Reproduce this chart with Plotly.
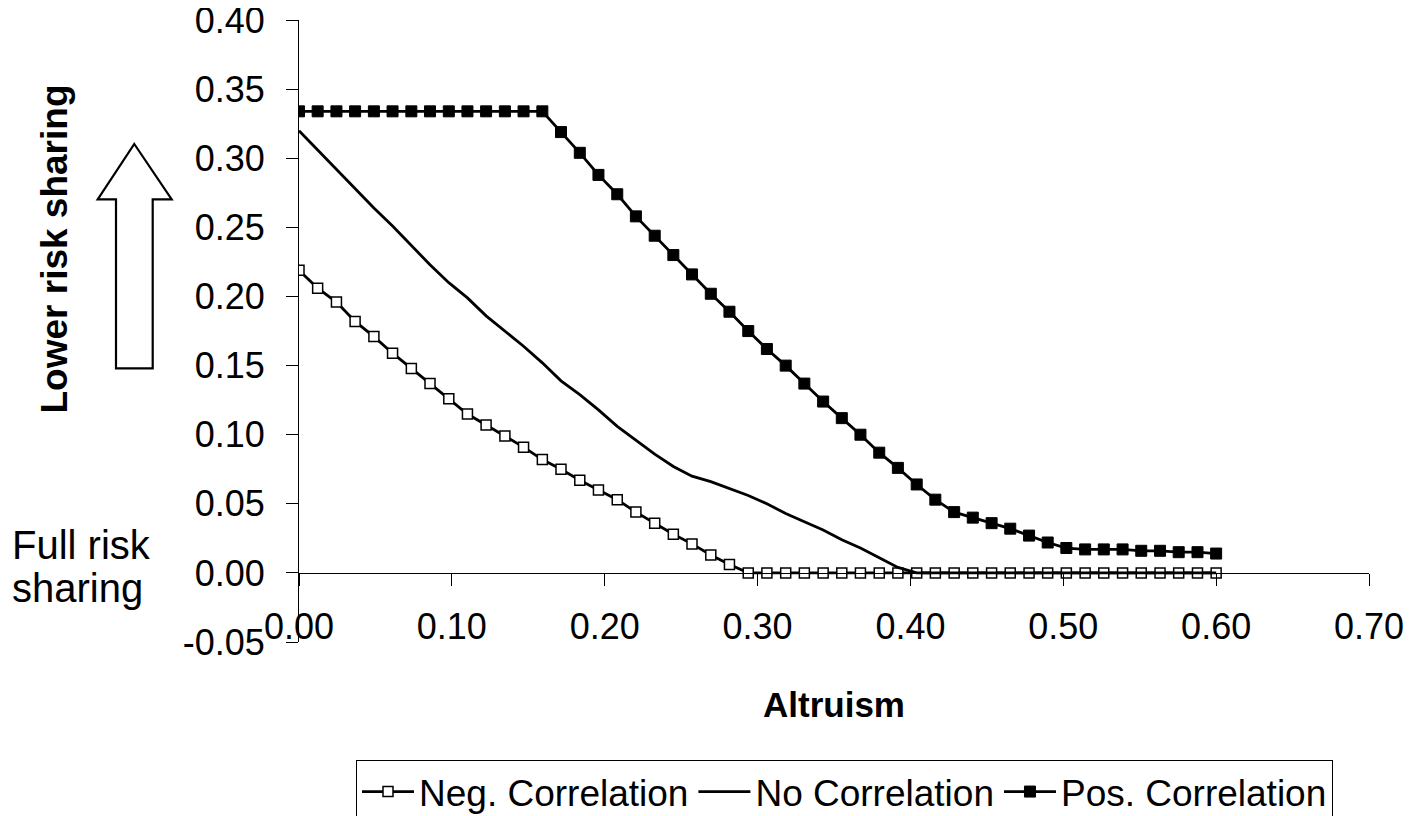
import plotly.graph_objects as go

# ---------------- data ----------------
altruism = [0.0, 0.0122, 0.0245, 0.0367, 0.0490, 0.0612, 0.0735, 0.0857, 0.0980, 0.1102,
            0.1224, 0.1347, 0.1469, 0.1592, 0.1714, 0.1837, 0.1959, 0.2082, 0.2204, 0.2327,
            0.2449, 0.2571, 0.2694, 0.2816, 0.2939, 0.3061, 0.3184, 0.3306, 0.3429, 0.3551,
            0.3673, 0.3796, 0.3918, 0.4041, 0.4163, 0.4286, 0.4408, 0.4531, 0.4653, 0.4776,
            0.4898, 0.5020, 0.5143, 0.5265, 0.5388, 0.5510, 0.5633, 0.5755, 0.5878, 0.6000]

neg_corr = [0.219, 0.206, 0.196, 0.182, 0.171, 0.159, 0.148, 0.137, 0.126, 0.115,
            0.107, 0.099, 0.091, 0.082, 0.075, 0.067, 0.060, 0.053, 0.044, 0.036,
            0.028, 0.021, 0.013, 0.006, 0.0, 0.0, 0.0, 0.0, 0.0, 0.0,
            0.0, 0.0, 0.0, 0.0, 0.0, 0.0, 0.0, 0.0, 0.0, 0.0,
            0.0, 0.0, 0.0, 0.0, 0.0, 0.0, 0.0, 0.0, 0.0, 0.0]

no_corr = [0.320, 0.306, 0.292, 0.278, 0.264, 0.251, 0.237, 0.223, 0.210, 0.199,
           0.186, 0.175, 0.164, 0.152, 0.139, 0.129, 0.118, 0.106, 0.096, 0.086,
           0.077, 0.070, 0.066, 0.061, 0.056, 0.050, 0.043, 0.037, 0.031, 0.024,
           0.018, 0.011, 0.004, 0.0, 0.0, 0.0, 0.0, 0.0, 0.0, 0.0,
           0.0, 0.0, 0.0, 0.0, 0.0, 0.0, 0.0, 0.0, 0.0, 0.0]

pos_corr = [0.334, 0.334, 0.334, 0.334, 0.334, 0.334, 0.334, 0.334, 0.334, 0.334,
            0.334, 0.334, 0.334, 0.334, 0.319, 0.304, 0.288, 0.274, 0.258, 0.244,
            0.230, 0.216, 0.202, 0.189, 0.175, 0.162, 0.150, 0.137, 0.124, 0.112,
            0.100, 0.087, 0.076, 0.064, 0.053, 0.044, 0.040, 0.036, 0.032, 0.027,
            0.022, 0.018, 0.017, 0.017, 0.017, 0.016, 0.016, 0.015, 0.015, 0.014]

series_names = ["Neg. Correlation", "No Correlation", "Pos. Correlation"]

x_range = [0.0, 0.7]
y_range = [-0.05, 0.4001]
x_ticks = [0.0, 0.1, 0.2, 0.3, 0.4, 0.5, 0.6, 0.7]
x_tick_labels = ["0.00", "0.10", "0.20", "0.30", "0.40", "0.50", "0.60", "0.70"]
y_ticks = [-0.05, 0.0, 0.05, 0.10, 0.15, 0.20, 0.25, 0.30, 0.35, 0.40]
y_tick_labels = ["-0.05", "0.00", "0.05", "0.10", "0.15", "0.20", "0.25", "0.30", "0.35", "0.40"]

x_title = "Altruism"
y_title = "Lower risk sharing"
low_label = ["Full risk", "sharing"]

# ---------------- figure ----------------
FONT = "Liberation Sans, Arial, sans-serif"
fig = go.Figure()

fig.add_trace(go.Scatter(
    x=altruism, y=neg_corr, name=series_names[0], mode="lines+markers",
    line=dict(color="black", width=2.8),
    marker=dict(symbol="square", size=10, color="white", line=dict(color="black", width=1.5)),
))
fig.add_trace(go.Scatter(
    x=altruism, y=no_corr, name=series_names[1], mode="lines",
    line=dict(color="black", width=2.8),
))
fig.add_trace(go.Scatter(
    x=altruism, y=pos_corr, name=series_names[2], mode="lines+markers",
    line=dict(color="black", width=2.8),
    marker=dict(symbol="square", size=11, color="black", line=dict(color="black", width=1)),
))

# page has an 8px body margin: figure is 8px smaller than the window
OFF = 8
W, H = 1420, 808
L, R, T, B = 291, 59, 12, 174
pw, ph = W - L - R, H - T - B

def px_x(px):
    return (px - OFF - L) / pw

def px_y(py):
    return (H - B - (py - OFF)) / ph

# block arrow (outline)
arrow_pts = [(134.3, 144), (171.7, 199.3), (152.7, 199.3), (152.7, 368.3),
             (116.0, 368.3), (116.0, 199.3), (97.7, 199.3)]
path = "M " + " L ".join(f"{px_x(a):.5f},{px_y(b):.5f}" for a, b in arrow_pts) + " Z"
fig.add_shape(type="path", path=path, xref="paper", yref="paper",
              line=dict(color="black", width=2.2), fillcolor="white", layer="above")

fig.add_annotation(text=f"<b>{y_title}</b>", xref="paper", yref="paper",
                   x=px_x(53.5), y=px_y(249), xanchor="center", yanchor="middle",
                   textangle=-90, showarrow=False,
                   font=dict(family=FONT, size=37, color="black"))
fig.add_annotation(text=low_label[0], xref="paper", yref="paper",
                   x=px_x(10), y=px_y(545), xanchor="left", yanchor="middle",
                   showarrow=False, font=dict(family=FONT, size=40, color="black"))
fig.add_annotation(text=low_label[1], xref="paper", yref="paper",
                   x=px_x(10), y=px_y(588), xanchor="left", yanchor="middle",
                   showarrow=False, font=dict(family=FONT, size=40, color="black"))

fig.update_layout(
    width=W, height=H,
    margin=dict(l=L, r=R, t=T, b=B, autoexpand=False),
    paper_bgcolor="white", plot_bgcolor="white",
    font=dict(family=FONT, color="black"),
    showlegend=True,
    legend=dict(orientation="h", x=px_x(356), y=px_y(760), xanchor="left", yanchor="top",
                bordercolor="black", borderwidth=1, bgcolor="white",
                font=dict(family=FONT, size=37, color="black"),
                itemwidth=52, tracegroupgap=0),
    xaxis=dict(range=x_range, anchor="free",
               position=(0 - y_range[0]) / (y_range[1] - y_range[0]),
               showline=True, linecolor="black", linewidth=1,
               ticks="outside", ticklen=12, tickwidth=1, tickcolor="black",
               tickvals=x_ticks, ticktext=x_tick_labels,
               tickfont=dict(family=FONT, size=36, color="black"),
               ticklabelstandoff=10, ticklabeloverflow="allow",
               showgrid=False, zeroline=False,
               title=dict(text=f"<b>{x_title}</b>", standoff=46,
                          font=dict(family=FONT, size=35, color="black"))),
    yaxis=dict(range=y_range,
               showline=True, linecolor="black", linewidth=1,
               ticks="outside", ticklen=12, tickwidth=1, tickcolor="black",
               tickvals=y_ticks, ticktext=y_tick_labels,
               tickfont=dict(family=FONT, size=36, color="black"),
               ticklabelstandoff=14, ticklabeloverflow="allow",
               showgrid=False, zeroline=False),
)

fig.write_html("out.html")
